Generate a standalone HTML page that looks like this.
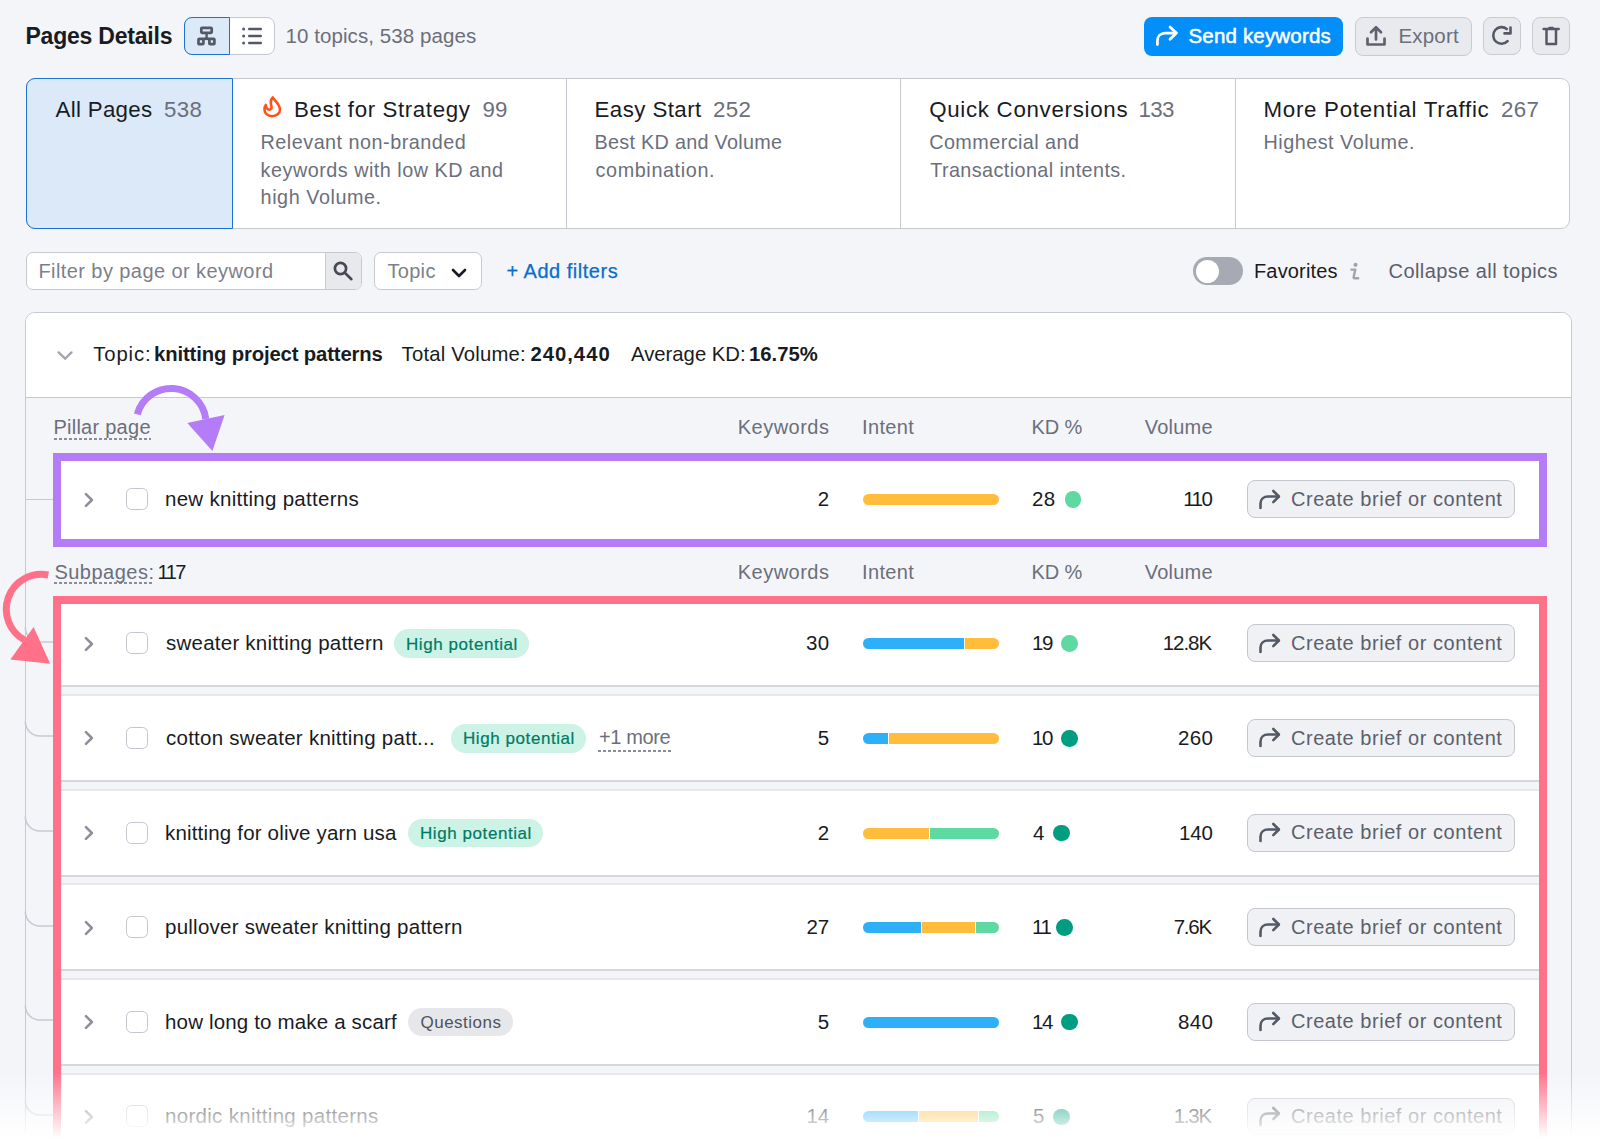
<!DOCTYPE html>
<html><head><meta charset="utf-8"><style>
html,body{margin:0;padding:0;}
body{width:1600px;height:1144px;overflow:hidden;position:relative;background:#f4f5f9;font-family:"Liberation Sans",sans-serif;}
.t{position:absolute;white-space:pre;line-height:1;}
</style></head><body>
<div style="position:absolute;left:184px;top:17px;width:91px;height:38px;box-sizing:border-box;border:1px solid #c4c7cf;border-radius:8px;background:#fff"></div>
<div style="position:absolute;left:184px;top:17px;width:46px;height:38px;box-sizing:border-box;border:1px solid #1a73d1;border-radius:8px 0 0 8px;background:#dbe9f9"></div>
<svg style="position:absolute;left:196px;top:25px" width="22" height="22" viewBox="0 0 22 22"><g fill="none" stroke="#555965" stroke-width="2.7"><rect x="5.3" y="2.8" width="10.4" height="5.1" rx="0.8"/><rect x="2.5" y="13.8" width="4.9" height="5.4" rx="0.8"/><rect x="13.4" y="13.8" width="5" height="5.4" rx="0.8"/><path d="M10.6 8.5v4.5" stroke-width="2.4"/></g><rect x="7.5" y="12.4" width="6" height="2.7" fill="#555965"/></svg>
<svg style="position:absolute;left:240px;top:25px" width="24" height="22" viewBox="0 0 24 22"><g fill="#555965"><circle cx="3.6" cy="4" r="1.5"/><circle cx="3.6" cy="11" r="1.5"/><circle cx="3.6" cy="18" r="1.5"/></g><g stroke="#555965" stroke-width="2.4" stroke-linecap="round"><path d="M9.2 4h11.6M9.2 11h11.6M9.2 18h11.6"/></g></svg>
<div style="position:absolute;left:1144px;top:17px;width:199px;height:38.5px;border-radius:8px;background:#038ffa"></div>
<svg style="position:absolute;left:1154px;top:24px" width="26" height="26" viewBox="0 0 26 26"><path d="M3.4 20.6v-3.8c0-4.6 3.3-7.7 7.8-7.7h10.8" fill="none" stroke="#fff" stroke-width="2.8" stroke-linecap="round"/><path d="M16 3.1l6.4 6-6.4 6.1" fill="none" stroke="#fff" stroke-width="2.8" stroke-linecap="round" stroke-linejoin="round"/></svg>
<div style="position:absolute;left:1354.8px;top:17px;width:116.8px;height:38.5px;box-sizing:border-box;border-radius:8px;background:#e9eaee;border:1px solid #c9cbd3"></div>
<svg style="position:absolute;left:1364px;top:24px" width="24" height="24" viewBox="0 0 24 24"><g fill="none" stroke="#5f626d" stroke-width="2.7" stroke-linecap="round" stroke-linejoin="round"><path d="M12 15.5V3.5M7 8.2l5-5 5 5"/><path d="M3.5 14.5v6h17v-6"/></g></svg>
<div style="position:absolute;left:1483.3px;top:17.1px;width:37.4px;height:38.3px;box-sizing:border-box;border-radius:8px;background:#e9eaee;border:1px solid #c9cbd3"></div>
<svg style="position:absolute;left:1490px;top:24px" width="24" height="24" viewBox="0 0 24 24"><g fill="none" stroke="#555965" stroke-width="2.6" stroke-linecap="round" stroke-linejoin="round"><path d="M17.6 17.1A8.3 8.3 0 1 1 16.8 5"/><path d="M20.5 3.5v5.9h-6"/></g></svg>
<div style="position:absolute;left:1532px;top:17.1px;width:38px;height:38.3px;box-sizing:border-box;border-radius:8px;background:#e9eaee;border:1px solid #c9cbd3"></div>
<svg style="position:absolute;left:1539px;top:24px" width="24" height="24" viewBox="0 0 24 24"><g fill="none" stroke="#555965" stroke-width="2.5" stroke-linecap="round" stroke-linejoin="round"><path d="M4.6 5h15"/><path d="M7.5 5.5v14.6h9.5V5.5"/></g><rect x="9.3" y="2.8" width="5.6" height="2.4" rx="1" fill="#555965"/></svg>
<div style="position:absolute;left:26px;top:78px;width:1544px;height:151px;box-sizing:border-box;border:1px solid #c7c9d1;border-radius:9px;background:#fff"></div>
<div style="position:absolute;left:566.0px;top:79px;width:1px;height:149px;background:#c7c9d1"></div>
<div style="position:absolute;left:900.2px;top:79px;width:1px;height:149px;background:#c7c9d1"></div>
<div style="position:absolute;left:1234.7px;top:79px;width:1px;height:149px;background:#c7c9d1"></div>
<div style="position:absolute;left:26px;top:78px;width:207px;height:151px;box-sizing:border-box;border:1.5px solid #1b73d3;border-radius:9px 0 0 9px;background:#dbe9f9"></div>
<svg style="position:absolute;left:255px;top:90px" width="35" height="35" viewBox="0 0 35 35"><path d="M17.8 7.5C19.5 10.5 25 14.5 25 19.5C25 23.5 21.5 26.2 17 26.2C12.5 26.2 9.5 23 9.5 19.5C9.5 17.5 10 16 10.8 15C11 17.5 12.5 19.6 14.3 19.6C16 19.6 17 18.2 16.5 16.5C15.8 14 14.5 11 17.8 7.5Z" fill="none" stroke="#ff5218" stroke-width="2.6" stroke-linejoin="round"/></svg>
<div style="position:absolute;left:26px;top:251.6px;width:336px;height:38.7px;box-sizing:border-box;border:1px solid #c7c9d1;border-radius:7px;background:#fff;overflow:hidden"><div style="position:absolute;left:298px;top:0;width:38px;height:100%;background:#e8e9ed;border-left:1px solid #c7c9d1"></div></div>
<svg style="position:absolute;left:331px;top:259px" width="24" height="24" viewBox="0 0 24 24"><circle cx="9.5" cy="9.5" r="5.6" fill="none" stroke="#464953" stroke-width="2.7"/><path d="M13.8 13.8l6.6 6.4" stroke="#464953" stroke-width="2.6" stroke-linecap="round"/></svg>
<div style="position:absolute;left:373.5px;top:251.6px;width:108.5px;height:38.7px;box-sizing:border-box;border:1px solid #c7c9d1;border-radius:7px;background:#fff"></div>
<svg style="position:absolute;left:450px;top:266px" width="18" height="14" viewBox="0 0 18 14"><path d="M3 4l6 6 6-6" fill="none" stroke="#171a22" stroke-width="2.6" stroke-linecap="round" stroke-linejoin="round"/></svg>
<div style="position:absolute;left:1193px;top:257px;width:50px;height:28px;border-radius:14px;background:#a7a9b3"></div>
<div style="position:absolute;left:1195.5px;top:259.5px;width:23px;height:23px;border-radius:50%;background:#fff"></div>
<svg style="position:absolute;left:1348px;top:261px" width="14" height="20" viewBox="0 0 14 20"><circle cx="7.5" cy="3.8" r="2.1" fill="#a0a3ad"/><path d="M3.4 8.6H7.3L5.6 16.3Q5.3 17.3 6.5 17.3H10.2" fill="none" stroke="#a0a3ad" stroke-width="2.4" stroke-linecap="round" stroke-linejoin="round"/></svg>
<div style="position:absolute;left:25px;top:312px;width:1547px;height:900px;box-sizing:border-box;border:1px solid #c7c9d1;border-radius:10px;background:#f4f5f9"></div>
<div style="position:absolute;left:26px;top:313px;width:1545px;height:83.6px;border-radius:9px 9px 0 0;background:#fff;border-bottom:1px solid #c7c9d1"></div>
<svg style="position:absolute;left:55px;top:347px" width="20" height="16" viewBox="0 0 20 16"><path d="M3.6 5.4L10.1 11.7 16.5 5.4" fill="none" stroke="#a2a5af" stroke-width="2.3" stroke-linecap="round" stroke-linejoin="miter"/></svg>
<div style="position:absolute;left:54px;top:438.0px;width:97px;height:2px;background:repeating-linear-gradient(to right,#8a8d97 0 3px,transparent 3px 5px)"></div>
<div style="position:absolute;left:54px;top:582.3px;width:99px;height:2px;background:repeating-linear-gradient(to right,#8a8d97 0 3px,transparent 3px 5px)"></div>
<div style="position:absolute;left:53px;top:457px;width:1494px;height:86px;background:#fff"></div>
<div style="position:absolute;left:26px;top:499px;width:27px;height:1px;background:#c7c9d1"></div>
<svg style="position:absolute;left:80px;top:489.5px" width="18" height="20" viewBox="0 0 18 20"><path d="M5.9 4.2L11.9 10 5.9 15.8" fill="none" stroke="#8c8f9a" stroke-width="2.5" stroke-linecap="round" stroke-linejoin="round"/></svg>
<div style="position:absolute;left:126.4px;top:488.0px;width:22px;height:22px;box-sizing:border-box;border:1.5px solid #c3c6ce;border-radius:5.5px;background:#fff"></div>
<div style="position:absolute;left:863px;top:494.0px;width:136px;height:11px;border-radius:6px;overflow:hidden;background:#fff"><div style="position:absolute;left:0px;top:0;width:136px;height:11px;background:#ffbd3b;box-shadow:-1px 0 0 #fff"></div></div>
<div style="position:absolute;left:1064.7px;top:491.2px;width:16.6px;height:16.6px;border-radius:50%;background:#5ed9a1"></div>
<div style="position:absolute;left:1247.3px;top:480.3px;width:267.3px;height:37.7px;box-sizing:border-box;border:1px solid #c5c7cf;border-radius:8px;background:#f0f1f4"></div>
<svg style="position:absolute;left:1256px;top:486.5px" width="28" height="24" viewBox="0 0 28 24"><path d="M4.5 21v-4.3c0-4.5 3.2-7.2 7.6-7.2h10.5" fill="none" stroke="#555965" stroke-width="2.6" stroke-linecap="round"/><path d="M17.3 4l5.6 5.5-5.6 5.6" fill="none" stroke="#555965" stroke-width="2.6" stroke-linecap="round" stroke-linejoin="round"/></svg>
<div style="position:absolute;left:53px;top:599.3px;width:1494px;height:83.7px;background:#fff;border-top:2px solid #e7e8ed;border-bottom:2px solid #d6d7dd"></div>
<svg style="position:absolute;left:20px;top:618.5px" width="40" height="30" viewBox="0 0 40 30"><path d="M5.3 8.5A14.5 14.5 0 0 0 19.8 23H33" fill="none" stroke="#c8cad2" stroke-width="1.6"/></svg>
<svg style="position:absolute;left:80px;top:633.5px" width="18" height="20" viewBox="0 0 18 20"><path d="M5.9 4.2L11.9 10 5.9 15.8" fill="none" stroke="#8c8f9a" stroke-width="2.5" stroke-linecap="round" stroke-linejoin="round"/></svg>
<div style="position:absolute;left:126.4px;top:632.0px;width:22px;height:22px;box-sizing:border-box;border:1.5px solid #c3c6ce;border-radius:5.5px;background:#fff"></div>
<div style="position:absolute;left:863px;top:638.0px;width:136px;height:11px;border-radius:6px;overflow:hidden;background:#fff"><div style="position:absolute;left:0px;top:0;width:102px;height:11px;background:#2db0f7;box-shadow:-1px 0 0 #fff"></div><div style="position:absolute;left:102px;top:0;width:34px;height:11px;background:#ffbd3b;box-shadow:-1px 0 0 #fff"></div></div>
<div style="position:absolute;left:1061.0px;top:635.2px;width:16.6px;height:16.6px;border-radius:50%;background:#5ed9a1"></div>
<div style="position:absolute;left:1247.3px;top:624.3px;width:267.3px;height:37.7px;box-sizing:border-box;border:1px solid #c5c7cf;border-radius:8px;background:#f0f1f4"></div>
<svg style="position:absolute;left:1256px;top:630.5px" width="28" height="24" viewBox="0 0 28 24"><path d="M4.5 21v-4.3c0-4.5 3.2-7.2 7.6-7.2h10.5" fill="none" stroke="#555965" stroke-width="2.6" stroke-linecap="round"/><path d="M17.3 4l5.6 5.5-5.6 5.6" fill="none" stroke="#555965" stroke-width="2.6" stroke-linecap="round" stroke-linejoin="round"/></svg>
<div style="position:absolute;left:394px;top:629.2px;width:135.39999999999998px;height:28.6px;border-radius:15px;background:#cdf2e6"></div>
<div style="position:absolute;left:53px;top:694.0999999999999px;width:1494px;height:83.7px;background:#fff;border-top:2px solid #e7e8ed;border-bottom:2px solid #d6d7dd"></div>
<svg style="position:absolute;left:20px;top:713.3px" width="40" height="30" viewBox="0 0 40 30"><path d="M5.3 8.5A14.5 14.5 0 0 0 19.8 23H33" fill="none" stroke="#c8cad2" stroke-width="1.6"/></svg>
<svg style="position:absolute;left:80px;top:728.3px" width="18" height="20" viewBox="0 0 18 20"><path d="M5.9 4.2L11.9 10 5.9 15.8" fill="none" stroke="#8c8f9a" stroke-width="2.5" stroke-linecap="round" stroke-linejoin="round"/></svg>
<div style="position:absolute;left:126.4px;top:726.8px;width:22px;height:22px;box-sizing:border-box;border:1.5px solid #c3c6ce;border-radius:5.5px;background:#fff"></div>
<div style="position:absolute;left:863px;top:732.8px;width:136px;height:11px;border-radius:6px;overflow:hidden;background:#fff"><div style="position:absolute;left:0px;top:0;width:26.399999999999977px;height:11px;background:#2db0f7;box-shadow:-1px 0 0 #fff"></div><div style="position:absolute;left:26.399999999999977px;top:0;width:109.60000000000002px;height:11px;background:#ffbd3b;box-shadow:-1px 0 0 #fff"></div></div>
<div style="position:absolute;left:1061.0px;top:730.0px;width:16.6px;height:16.6px;border-radius:50%;background:#009e80"></div>
<div style="position:absolute;left:1247.3px;top:719.0999999999999px;width:267.3px;height:37.7px;box-sizing:border-box;border:1px solid #c5c7cf;border-radius:8px;background:#f0f1f4"></div>
<svg style="position:absolute;left:1256px;top:725.3px" width="28" height="24" viewBox="0 0 28 24"><path d="M4.5 21v-4.3c0-4.5 3.2-7.2 7.6-7.2h10.5" fill="none" stroke="#555965" stroke-width="2.6" stroke-linecap="round"/><path d="M17.3 4l5.6 5.5-5.6 5.6" fill="none" stroke="#555965" stroke-width="2.6" stroke-linecap="round" stroke-linejoin="round"/></svg>
<div style="position:absolute;left:451px;top:724.0px;width:135px;height:28.6px;border-radius:15px;background:#cdf2e6"></div>
<div style="position:absolute;left:598px;top:749.8px;width:73px;height:2px;background:repeating-linear-gradient(to right,#8a8d97 0 3px,transparent 3px 5px)"></div>
<div style="position:absolute;left:53px;top:788.9px;width:1494px;height:83.7px;background:#fff;border-top:2px solid #e7e8ed;border-bottom:2px solid #d6d7dd"></div>
<svg style="position:absolute;left:20px;top:808.1px" width="40" height="30" viewBox="0 0 40 30"><path d="M5.3 8.5A14.5 14.5 0 0 0 19.8 23H33" fill="none" stroke="#c8cad2" stroke-width="1.6"/></svg>
<svg style="position:absolute;left:80px;top:823.1px" width="18" height="20" viewBox="0 0 18 20"><path d="M5.9 4.2L11.9 10 5.9 15.8" fill="none" stroke="#8c8f9a" stroke-width="2.5" stroke-linecap="round" stroke-linejoin="round"/></svg>
<div style="position:absolute;left:126.4px;top:821.6px;width:22px;height:22px;box-sizing:border-box;border:1.5px solid #c3c6ce;border-radius:5.5px;background:#fff"></div>
<div style="position:absolute;left:863px;top:827.6px;width:136px;height:11px;border-radius:6px;overflow:hidden;background:#fff"><div style="position:absolute;left:0px;top:0;width:67.29999999999995px;height:11px;background:#ffbd3b;box-shadow:-1px 0 0 #fff"></div><div style="position:absolute;left:67.29999999999995px;top:0;width:68.70000000000005px;height:11px;background:#5ed9a1;box-shadow:-1px 0 0 #fff"></div></div>
<div style="position:absolute;left:1053.1000000000001px;top:824.8000000000001px;width:16.6px;height:16.6px;border-radius:50%;background:#009e80"></div>
<div style="position:absolute;left:1247.3px;top:813.9px;width:267.3px;height:37.7px;box-sizing:border-box;border:1px solid #c5c7cf;border-radius:8px;background:#f0f1f4"></div>
<svg style="position:absolute;left:1256px;top:820.1px" width="28" height="24" viewBox="0 0 28 24"><path d="M4.5 21v-4.3c0-4.5 3.2-7.2 7.6-7.2h10.5" fill="none" stroke="#555965" stroke-width="2.6" stroke-linecap="round"/><path d="M17.3 4l5.6 5.5-5.6 5.6" fill="none" stroke="#555965" stroke-width="2.6" stroke-linecap="round" stroke-linejoin="round"/></svg>
<div style="position:absolute;left:408px;top:818.8000000000001px;width:135px;height:28.6px;border-radius:15px;background:#cdf2e6"></div>
<div style="position:absolute;left:53px;top:883.4px;width:1494px;height:83.7px;background:#fff;border-top:2px solid #e7e8ed;border-bottom:2px solid #d6d7dd"></div>
<svg style="position:absolute;left:20px;top:902.6px" width="40" height="30" viewBox="0 0 40 30"><path d="M5.3 8.5A14.5 14.5 0 0 0 19.8 23H33" fill="none" stroke="#c8cad2" stroke-width="1.6"/></svg>
<svg style="position:absolute;left:80px;top:917.6px" width="18" height="20" viewBox="0 0 18 20"><path d="M5.9 4.2L11.9 10 5.9 15.8" fill="none" stroke="#8c8f9a" stroke-width="2.5" stroke-linecap="round" stroke-linejoin="round"/></svg>
<div style="position:absolute;left:126.4px;top:916.1px;width:22px;height:22px;box-sizing:border-box;border:1.5px solid #c3c6ce;border-radius:5.5px;background:#fff"></div>
<div style="position:absolute;left:863px;top:922.1px;width:136px;height:11px;border-radius:6px;overflow:hidden;background:#fff"><div style="position:absolute;left:0px;top:0;width:59px;height:11px;background:#2db0f7;box-shadow:-1px 0 0 #fff"></div><div style="position:absolute;left:59px;top:0;width:53.60000000000002px;height:11px;background:#ffbd3b;box-shadow:-1px 0 0 #fff"></div><div style="position:absolute;left:112.60000000000002px;top:0;width:23.399999999999977px;height:11px;background:#5ed9a1;box-shadow:-1px 0 0 #fff"></div></div>
<div style="position:absolute;left:1056.2px;top:919.3000000000001px;width:16.6px;height:16.6px;border-radius:50%;background:#009e80"></div>
<div style="position:absolute;left:1247.3px;top:908.4px;width:267.3px;height:37.7px;box-sizing:border-box;border:1px solid #c5c7cf;border-radius:8px;background:#f0f1f4"></div>
<svg style="position:absolute;left:1256px;top:914.6px" width="28" height="24" viewBox="0 0 28 24"><path d="M4.5 21v-4.3c0-4.5 3.2-7.2 7.6-7.2h10.5" fill="none" stroke="#555965" stroke-width="2.6" stroke-linecap="round"/><path d="M17.3 4l5.6 5.5-5.6 5.6" fill="none" stroke="#555965" stroke-width="2.6" stroke-linecap="round" stroke-linejoin="round"/></svg>
<div style="position:absolute;left:53px;top:978.0px;width:1494px;height:83.7px;background:#fff;border-top:2px solid #e7e8ed;border-bottom:2px solid #d6d7dd"></div>
<svg style="position:absolute;left:20px;top:997.2px" width="40" height="30" viewBox="0 0 40 30"><path d="M5.3 8.5A14.5 14.5 0 0 0 19.8 23H33" fill="none" stroke="#c8cad2" stroke-width="1.6"/></svg>
<svg style="position:absolute;left:80px;top:1012.2px" width="18" height="20" viewBox="0 0 18 20"><path d="M5.9 4.2L11.9 10 5.9 15.8" fill="none" stroke="#8c8f9a" stroke-width="2.5" stroke-linecap="round" stroke-linejoin="round"/></svg>
<div style="position:absolute;left:126.4px;top:1010.7px;width:22px;height:22px;box-sizing:border-box;border:1.5px solid #c3c6ce;border-radius:5.5px;background:#fff"></div>
<div style="position:absolute;left:863px;top:1016.7px;width:136px;height:11px;border-radius:6px;overflow:hidden;background:#fff"><div style="position:absolute;left:0px;top:0;width:136px;height:11px;background:#2db0f7;box-shadow:-1px 0 0 #fff"></div></div>
<div style="position:absolute;left:1061.0px;top:1013.9000000000001px;width:16.6px;height:16.6px;border-radius:50%;background:#009e80"></div>
<div style="position:absolute;left:1247.3px;top:1003.0px;width:267.3px;height:37.7px;box-sizing:border-box;border:1px solid #c5c7cf;border-radius:8px;background:#f0f1f4"></div>
<svg style="position:absolute;left:1256px;top:1009.2px" width="28" height="24" viewBox="0 0 28 24"><path d="M4.5 21v-4.3c0-4.5 3.2-7.2 7.6-7.2h10.5" fill="none" stroke="#555965" stroke-width="2.6" stroke-linecap="round"/><path d="M17.3 4l5.6 5.5-5.6 5.6" fill="none" stroke="#555965" stroke-width="2.6" stroke-linecap="round" stroke-linejoin="round"/></svg>
<div style="position:absolute;left:408px;top:1007.9000000000001px;width:105px;height:28.6px;border-radius:15px;background:#e6e7eb"></div>
<div style="position:absolute;left:53px;top:1072.6px;width:1494px;height:83.7px;background:#fff;border-top:2px solid #e7e8ed;border-bottom:2px solid #d6d7dd"></div>
<svg style="position:absolute;left:20px;top:1091.8px" width="40" height="30" viewBox="0 0 40 30"><path d="M5.3 8.5A14.5 14.5 0 0 0 19.8 23H33" fill="none" stroke="#c8cad2" stroke-width="1.6"/></svg>
<svg style="position:absolute;left:80px;top:1106.8px" width="18" height="20" viewBox="0 0 18 20"><path d="M5.9 4.2L11.9 10 5.9 15.8" fill="none" stroke="#8c8f9a" stroke-width="2.5" stroke-linecap="round" stroke-linejoin="round"/></svg>
<div style="position:absolute;left:126.4px;top:1105.3px;width:22px;height:22px;box-sizing:border-box;border:1.5px solid #c3c6ce;border-radius:5.5px;background:#fff"></div>
<div style="position:absolute;left:863px;top:1111.3px;width:136px;height:11px;border-radius:6px;overflow:hidden;background:#fff"><div style="position:absolute;left:0px;top:0;width:56px;height:11px;background:#2db0f7;box-shadow:-1px 0 0 #fff"></div><div style="position:absolute;left:56px;top:0;width:60px;height:11px;background:#ffbd3b;box-shadow:-1px 0 0 #fff"></div><div style="position:absolute;left:116px;top:0;width:20px;height:11px;background:#5ed9a1;box-shadow:-1px 0 0 #fff"></div></div>
<div style="position:absolute;left:1053.1000000000001px;top:1108.5px;width:16.6px;height:16.6px;border-radius:50%;background:#009e80"></div>
<div style="position:absolute;left:1247.3px;top:1097.6px;width:267.3px;height:37.7px;box-sizing:border-box;border:1px solid #c5c7cf;border-radius:8px;background:#f0f1f4"></div>
<svg style="position:absolute;left:1256px;top:1103.8px" width="28" height="24" viewBox="0 0 28 24"><path d="M4.5 21v-4.3c0-4.5 3.2-7.2 7.6-7.2h10.5" fill="none" stroke="#555965" stroke-width="2.6" stroke-linecap="round"/><path d="M17.3 4l5.6 5.5-5.6 5.6" fill="none" stroke="#555965" stroke-width="2.6" stroke-linecap="round" stroke-linejoin="round"/></svg>
<div style="position:absolute;left:52.7px;top:453px;width:1494.1px;height:93.8px;box-sizing:border-box;border:8px solid #b57cf7"></div>
<div style="position:absolute;left:52.5px;top:596px;width:1494.5px;height:700px;box-sizing:border-box;border:8px solid #ff7189;border-bottom:none"></div>
<svg style="position:absolute;left:0;top:0" width="260" height="700" viewBox="0 0 260 700">
<path d="M137.3 414.3A35 35 0 0 1 205.8 419" fill="none" stroke="#b57cf7" stroke-width="7"/>
<path d="M187.3 423L224.6 415.1 212.4 450.9Z" fill="#b57cf7"/>
<path d="M48.3 575A35 35 0 0 0 24.5 640" fill="none" stroke="#ff7189" stroke-width="7"/>
<path d="M10.4 659.5L33.6 627 50.2 663.8Z" fill="#ff7189"/>
</svg>
<div class="t" style="left:25.50px;top:25.33px;font-size:23px;color:#191b23;font-weight:700;letter-spacing:-0.216px;">Pages Details</div>
<div class="t" style="left:285.40px;top:26.15px;font-size:20.5px;color:#6b6f7b;letter-spacing:0.087px;">10 topics, 538 pages</div>
<div class="t" style="left:1188.50px;top:26.15px;font-size:20.5px;color:#ffffff;letter-spacing:0.174px;-webkit-text-stroke:0.5px #fff;">Send keywords</div>
<div class="t" style="left:1398.40px;top:26.15px;font-size:20.5px;color:#6b6f7b;letter-spacing:0.210px;">Export</div>
<div class="t" style="left:55.60px;top:98.92px;font-size:22.3px;color:#191b23;letter-spacing:0.294px;">All Pages</div>
<div class="t" style="left:164.00px;top:98.92px;font-size:22.3px;color:#6b6f7b;letter-spacing:0.300px;">538</div>
<div class="t" style="left:294.00px;top:98.87px;font-size:22.3px;color:#191b23;letter-spacing:0.612px;">Best for Strategy</div>
<div class="t" style="left:482.40px;top:98.87px;font-size:22.3px;color:#6b6f7b;letter-spacing:0.300px;">99</div>
<div class="t" style="left:260.60px;top:132.74px;font-size:19.8px;color:#6b6f7b;letter-spacing:0.492px;">Relevant non-branded</div>
<div class="t" style="left:260.60px;top:160.74px;font-size:19.8px;color:#6b6f7b;letter-spacing:0.501px;">keywords with low KD and</div>
<div class="t" style="left:260.60px;top:188.24px;font-size:19.8px;color:#6b6f7b;letter-spacing:0.557px;">high Volume.</div>
<div class="t" style="left:594.50px;top:98.87px;font-size:22.3px;color:#191b23;letter-spacing:0.427px;">Easy Start</div>
<div class="t" style="left:713.00px;top:98.87px;font-size:22.3px;color:#6b6f7b;letter-spacing:0.300px;">252</div>
<div class="t" style="left:594.50px;top:132.74px;font-size:19.8px;color:#6b6f7b;letter-spacing:0.292px;">Best KD and Volume</div>
<div class="t" style="left:595.50px;top:160.74px;font-size:19.8px;color:#6b6f7b;letter-spacing:0.622px;">combination.</div>
<div class="t" style="left:929.20px;top:98.87px;font-size:22.3px;color:#191b23;letter-spacing:0.702px;">Quick Conversions</div>
<div class="t" style="left:1138.50px;top:98.87px;font-size:22.3px;color:#6b6f7b;letter-spacing:-0.650px;">133</div>
<div class="t" style="left:929.20px;top:132.74px;font-size:19.8px;color:#6b6f7b;letter-spacing:0.445px;">Commercial and</div>
<div class="t" style="left:930.20px;top:160.74px;font-size:19.8px;color:#6b6f7b;letter-spacing:0.410px;">Transactional intents.</div>
<div class="t" style="left:1263.50px;top:98.87px;font-size:22.3px;color:#191b23;letter-spacing:0.713px;">More Potential Traffic</div>
<div class="t" style="left:1501.00px;top:98.87px;font-size:22.3px;color:#6b6f7b;letter-spacing:0.300px;">267</div>
<div class="t" style="left:1263.50px;top:132.74px;font-size:19.8px;color:#6b6f7b;letter-spacing:0.497px;">Highest Volume.</div>
<div class="t" style="left:38.40px;top:261.07px;font-size:20px;color:#7c7f8a;letter-spacing:0.424px;">Filter by page or keyword</div>
<div class="t" style="left:387.40px;top:261.07px;font-size:20px;color:#7c7f8a;letter-spacing:0.328px;">Topic</div>
<div class="t" style="left:506.40px;top:261.07px;font-size:20px;color:#0a6dcc;letter-spacing:0.520px;-webkit-text-stroke:0.25px #0a6dcc;">+ Add filters</div>
<div class="t" style="left:1254.00px;top:261.07px;font-size:20px;color:#191b23;letter-spacing:0.157px;">Favorites</div>
<div class="t" style="left:1388.50px;top:261.07px;font-size:20px;color:#5b5f6b;letter-spacing:0.434px;">Collapse all topics</div>
<div class="t" style="left:93.30px;top:344.42px;font-size:20.3px;color:#191b23;letter-spacing:0.851px;">Topic:</div>
<div class="t" style="left:154.00px;top:344.42px;font-size:20.3px;color:#191b23;font-weight:700;letter-spacing:-0.135px;">knitting project patterns</div>
<div class="t" style="left:401.60px;top:344.42px;font-size:20.3px;color:#191b23;letter-spacing:0.190px;">Total Volume:</div>
<div class="t" style="left:530.40px;top:344.42px;font-size:20.3px;color:#191b23;font-weight:700;letter-spacing:1.000px;">240,440</div>
<div class="t" style="left:631.00px;top:344.42px;font-size:20.3px;color:#191b23;">Average KD:</div>
<div class="t" style="left:749.00px;top:344.42px;font-size:20.3px;color:#191b23;font-weight:700;">16.75%</div>
<div class="t" style="left:53.40px;top:417.27px;font-size:20px;color:#6b6f7b;letter-spacing:0.262px;">Pillar page</div>
<div class="t" style="left:737.80px;top:417.27px;font-size:20px;color:#6b6f7b;letter-spacing:0.470px;">Keywords</div>
<div class="t" style="left:862.00px;top:417.27px;font-size:20px;color:#6b6f7b;letter-spacing:0.364px;">Intent</div>
<div class="t" style="left:1031.60px;top:417.27px;font-size:20px;color:#6b6f7b;letter-spacing:-0.180px;">KD %</div>
<div class="t" style="left:1144.80px;top:417.27px;font-size:20px;color:#6b6f7b;letter-spacing:0.203px;">Volume</div>
<div class="t" style="left:54.40px;top:561.57px;font-size:20px;color:#6b6f7b;letter-spacing:0.490px;">Subpages:</div>
<div class="t" style="left:157.50px;top:561.57px;font-size:20px;color:#191b23;letter-spacing:-1.500px;">117</div>
<div class="t" style="left:737.80px;top:561.57px;font-size:20px;color:#6b6f7b;letter-spacing:0.470px;">Keywords</div>
<div class="t" style="left:862.00px;top:561.57px;font-size:20px;color:#6b6f7b;letter-spacing:0.364px;">Intent</div>
<div class="t" style="left:1031.60px;top:561.57px;font-size:20px;color:#6b6f7b;letter-spacing:-0.180px;">KD %</div>
<div class="t" style="left:1144.80px;top:561.57px;font-size:20px;color:#6b6f7b;letter-spacing:0.203px;">Volume</div>
<div class="t" style="left:165.00px;top:489.15px;font-size:20.5px;color:#191b23;letter-spacing:0.286px;">new knitting patterns</div>
<div class="t" style="left:817.80px;top:489.15px;font-size:20.5px;color:#191b23;">2</div>
<div class="t" style="left:1032.00px;top:489.15px;font-size:20.5px;color:#191b23;letter-spacing:0.300px;">28</div>
<div class="t" style="left:1183.22px;top:489.15px;font-size:20.5px;color:#191b23;letter-spacing:-1.500px;">110</div>
<div class="t" style="left:1291.00px;top:488.77px;font-size:20px;color:#5b5f6b;letter-spacing:0.539px;">Create brief or content</div>
<div class="t" style="left:166.00px;top:633.15px;font-size:20.5px;color:#191b23;letter-spacing:0.237px;">sweater knitting pattern</div>
<div class="t" style="left:806.10px;top:633.15px;font-size:20.5px;color:#191b23;letter-spacing:0.300px;">30</div>
<div class="t" style="left:1032.00px;top:633.15px;font-size:20.5px;color:#191b23;letter-spacing:-1.500px;">19</div>
<div class="t" style="left:1162.70px;top:633.15px;font-size:20.5px;color:#191b23;letter-spacing:-1.025px;">12.8K</div>
<div class="t" style="left:1291.00px;top:632.77px;font-size:20px;color:#5b5f6b;letter-spacing:0.539px;">Create brief or content</div>
<div class="t" style="left:406.00px;top:635.61px;font-size:17px;color:#007a64;letter-spacing:0.571px;-webkit-text-stroke:0.2px #007a64;">High potential</div>
<div class="t" style="left:166.00px;top:727.95px;font-size:20.5px;color:#191b23;letter-spacing:0.258px;">cotton sweater knitting patt...</div>
<div class="t" style="left:817.80px;top:727.95px;font-size:20.5px;color:#191b23;">5</div>
<div class="t" style="left:1032.00px;top:727.95px;font-size:20.5px;color:#191b23;letter-spacing:-1.500px;">10</div>
<div class="t" style="left:1178.10px;top:727.95px;font-size:20.5px;color:#191b23;letter-spacing:0.300px;">260</div>
<div class="t" style="left:1291.00px;top:727.57px;font-size:20px;color:#5b5f6b;letter-spacing:0.539px;">Create brief or content</div>
<div class="t" style="left:463.00px;top:730.41px;font-size:17px;color:#007a64;letter-spacing:0.571px;-webkit-text-stroke:0.2px #007a64;">High potential</div>
<div class="t" style="left:599.00px;top:727.37px;font-size:20px;color:#6b6f7b;letter-spacing:-0.400px;">+1 more</div>
<div class="t" style="left:165.00px;top:822.75px;font-size:20.5px;color:#191b23;letter-spacing:0.179px;">knitting for olive yarn usa</div>
<div class="t" style="left:817.80px;top:822.75px;font-size:20.5px;color:#191b23;">2</div>
<div class="t" style="left:1033.00px;top:822.75px;font-size:20.5px;color:#191b23;">4</div>
<div class="t" style="left:1179.00px;top:822.75px;font-size:20.5px;color:#191b23;letter-spacing:-0.151px;">140</div>
<div class="t" style="left:1291.00px;top:822.37px;font-size:20px;color:#5b5f6b;letter-spacing:0.539px;">Create brief or content</div>
<div class="t" style="left:420.00px;top:825.21px;font-size:17px;color:#007a64;letter-spacing:0.571px;-webkit-text-stroke:0.2px #007a64;">High potential</div>
<div class="t" style="left:165.00px;top:917.25px;font-size:20.5px;color:#191b23;letter-spacing:0.249px;">pullover sweater knitting pattern</div>
<div class="t" style="left:806.50px;top:917.25px;font-size:20.5px;color:#191b23;letter-spacing:-0.101px;">27</div>
<div class="t" style="left:1032.00px;top:917.25px;font-size:20.5px;color:#191b23;letter-spacing:-1.500px;">11</div>
<div class="t" style="left:1173.70px;top:917.25px;font-size:20.5px;color:#191b23;letter-spacing:-1.233px;">7.6K</div>
<div class="t" style="left:1291.00px;top:916.87px;font-size:20px;color:#5b5f6b;letter-spacing:0.539px;">Create brief or content</div>
<div class="t" style="left:165.00px;top:1011.85px;font-size:20.5px;color:#191b23;letter-spacing:0.165px;">how long to make a scarf</div>
<div class="t" style="left:817.80px;top:1011.85px;font-size:20.5px;color:#191b23;">5</div>
<div class="t" style="left:1032.00px;top:1011.85px;font-size:20.5px;color:#191b23;letter-spacing:-1.500px;">14</div>
<div class="t" style="left:1178.10px;top:1011.85px;font-size:20.5px;color:#191b23;letter-spacing:0.300px;">840</div>
<div class="t" style="left:1291.00px;top:1011.47px;font-size:20px;color:#5b5f6b;letter-spacing:0.539px;">Create brief or content</div>
<div class="t" style="left:420.50px;top:1014.31px;font-size:17px;color:#4f525d;letter-spacing:0.495px;">Questions</div>
<div class="t" style="left:165.00px;top:1106.45px;font-size:20.5px;color:#191b23;letter-spacing:0.304px;">nordic knitting patterns</div>
<div class="t" style="left:806.50px;top:1106.45px;font-size:20.5px;color:#191b23;letter-spacing:-0.101px;">14</div>
<div class="t" style="left:1033.00px;top:1106.45px;font-size:20.5px;color:#191b23;">5</div>
<div class="t" style="left:1173.70px;top:1106.45px;font-size:20.5px;color:#191b23;letter-spacing:-1.233px;">1.3K</div>
<div class="t" style="left:1291.00px;top:1106.07px;font-size:20px;color:#5b5f6b;letter-spacing:0.539px;">Create brief or content</div>
<div style="position:absolute;left:0;top:1072px;width:1600px;height:72px;background:linear-gradient(to bottom, rgba(255,255,255,0) 0%, rgba(255,255,255,0.6) 55%, rgba(255,255,255,1) 92%)"></div>
</body></html>
